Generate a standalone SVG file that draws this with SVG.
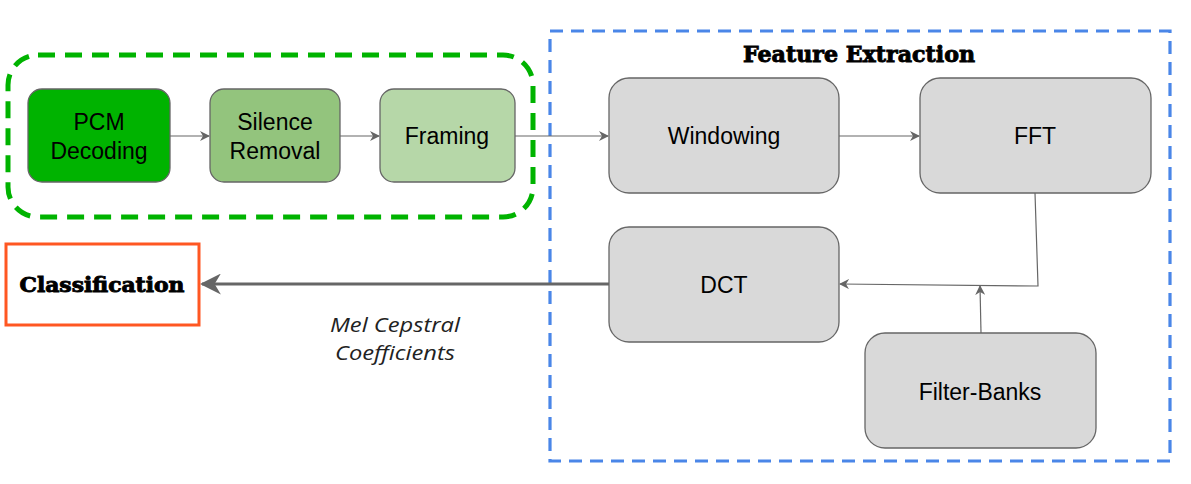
<svg xmlns="http://www.w3.org/2000/svg" width="1191" height="484" viewBox="0 0 1191 484">
<style>
.node rect{stroke:#666666;stroke-width:1.3}
.gray{fill:#d9d9d9}
.lbl{font-family:"Liberation Sans",Arial,sans-serif;font-size:23px;fill:#000;text-anchor:middle}
.slab{font-family:"DejaVu Serif","Liberation Serif",serif;font-weight:bold;fill:#000;stroke:#000;stroke-width:0.9;text-anchor:middle}
.conn{fill:none;stroke:#666666;stroke-width:1.2}
.it{font-family:"Open Sans",Lato,sans-serif;font-style:italic;font-size:20px;fill:#222;text-anchor:middle}
</style>
<defs>
<marker id="ah" viewBox="0 0 10 10" refX="9" refY="5" markerWidth="10" markerHeight="10" markerUnits="userSpaceOnUse" orient="auto">
<path d="M0,0 L10,5 L0,10 L3,5 z" fill="#666666"/>
</marker>
<marker id="ahb" viewBox="0 0 10 10" refX="9" refY="5" markerWidth="7" markerHeight="7" orient="auto">
<path d="M0,0 L10,5 L0,10 L3,5 z" fill="#666666"/>
</marker>
</defs>
<rect width="1191" height="484" fill="#ffffff"/>
<g id="group-preprocessing">
<rect x="8" y="55" width="525" height="162" rx="30" fill="none" stroke="#00b300" stroke-width="5" stroke-dasharray="17,10"/>
</g>
<g id="group-feature-extraction">
<rect x="550" y="31" width="620" height="430" fill="none" stroke="#4a86e8" stroke-width="3.2" stroke-dasharray="13,8"/>
<text class="slab" x="859" y="62" font-size="22" textLength="232" lengthAdjust="spacingAndGlyphs">Feature Extraction</text>
</g>
<g id="connectors">
<line class="conn" x1="170" y1="136" x2="209" y2="136" marker-end="url(#ah)"/>
<line class="conn" x1="340" y1="136" x2="379" y2="136" marker-end="url(#ah)"/>
<line class="conn" x1="515" y1="136" x2="608" y2="136" marker-end="url(#ah)"/>
<line class="conn" x1="839" y1="136" x2="919" y2="136" marker-end="url(#ah)"/>
<polyline class="conn" points="1035,193 1038,286 840,284" marker-end="url(#ah)"/>
<line class="conn" x1="981" y1="333" x2="980" y2="286" marker-end="url(#ah)"/>
<line x1="609" y1="284" x2="202" y2="284" stroke="#666666" stroke-width="3" marker-end="url(#ahb)"/>
<text class="it" x="395" y="332" textLength="130" lengthAdjust="spacingAndGlyphs">Mel Cepstral</text>
<text class="it" x="395" y="360" textLength="120" lengthAdjust="spacingAndGlyphs">Coefficients</text>
</g>
<g id="node-pcm" class="node">
<rect x="28" y="89" width="142" height="93" rx="14" fill="#00b300"/>
<text class="lbl" x="99" y="130">PCM</text>
<text class="lbl" x="99" y="159">Decoding</text>
</g>
<g id="node-silence" class="node">
<rect x="210" y="89" width="130" height="93" rx="14" fill="#93c47d"/>
<text class="lbl" x="275" y="130">Silence</text>
<text class="lbl" x="275" y="159">Removal</text>
</g>
<g id="node-framing" class="node">
<rect x="380" y="89" width="135" height="93" rx="14" fill="#b6d7a8"/>
<text class="lbl" x="447" y="144">Framing</text>
</g>
<g id="node-windowing" class="node">
<rect class="gray" x="609" y="78" width="230" height="115" rx="20"/>
<text class="lbl" x="724" y="144">Windowing</text>
</g>
<g id="node-fft" class="node">
<rect class="gray" x="920" y="78" width="231" height="115" rx="20"/>
<text class="lbl" x="1035" y="144">FFT</text>
</g>
<g id="node-dct" class="node">
<rect class="gray" x="609" y="227" width="230" height="115" rx="20"/>
<text class="lbl" x="724" y="293">DCT</text>
</g>
<g id="node-filterbanks" class="node">
<rect class="gray" x="865" y="333" width="231" height="115" rx="20"/>
<text class="lbl" x="980" y="400">Filter-Banks</text>
</g>
<g id="node-classification">
<rect x="6" y="244" width="193" height="81" fill="#ffffff" stroke="#ff5722" stroke-width="3"/>
<text class="slab" x="102" y="292" font-size="20" textLength="165" lengthAdjust="spacingAndGlyphs">Classification</text>
</g>
</svg>
